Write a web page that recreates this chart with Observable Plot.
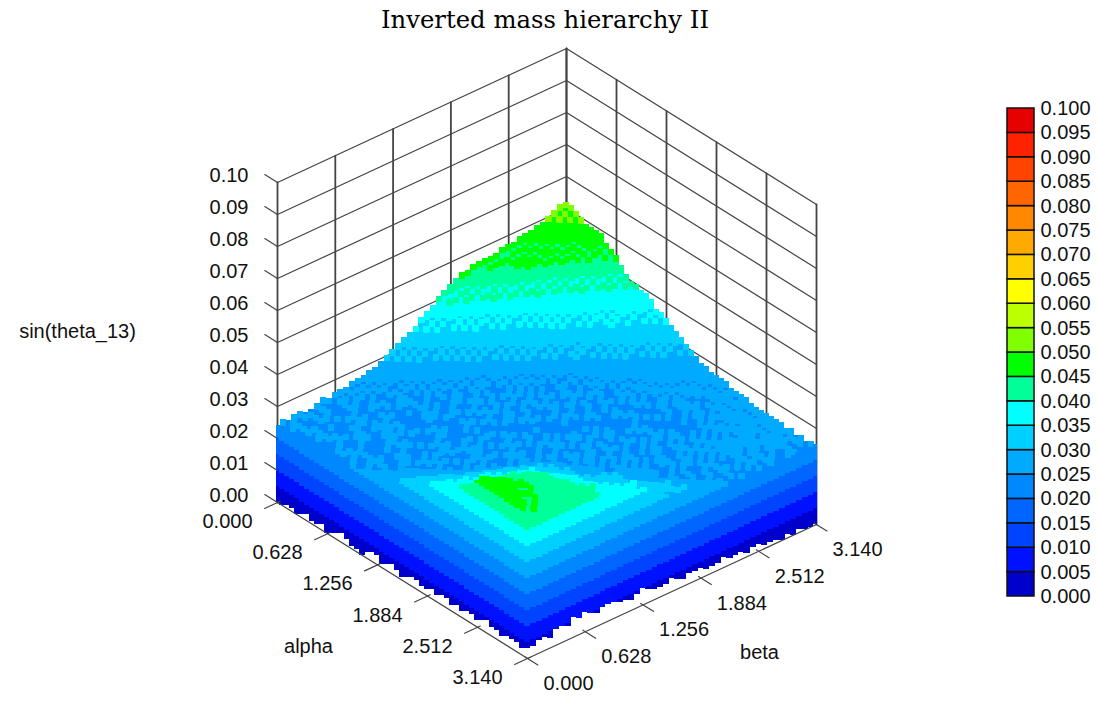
<!DOCTYPE html>
<html><head><meta charset="utf-8">
<script src="https://cdn.jsdelivr.net/npm/d3@7"></script>
<script src="https://cdn.jsdelivr.net/npm/@observablehq/plot@0.6"></script>
<style>
html,body{margin:0;padding:0;background:#fff}
#title{height:40px;line-height:40px;width:1090px;text-align:center;font-family:"DejaVu Serif",serif;font-size:24.3px;color:#000}
svg{display:block}
</style></head><body>
<div id="title">Inverted mass hierarchy II</div>
<div id="chart"></div>
<script>
// upper envelope of sin(theta_13), one row per alpha step, one letter per beta step
const heightCodes = "abcdefghijklmnopqrstuvwxyzABCDEFGHIJ"; // a = 0.020, each next letter +0.001
const heightRows = [
"efeffeefgf ggghhhiijk lmnoprstvw xyzzAAAAAB BBCCCDDEFG G",
"eefeffefee ffggghhiij klmnopqstu uvvwxyzzzz AAABBCCDEF G",
"effeefefee feffgghhii jklmnopqrs tuuvwwxyyz zzAABBCCDE F",
"eefeeffeed ffeefgghhi ijklmnoopq rstuuvwxyz zzzAABBCCD E",
"deffeeefee feefeeffgh iijjklmnop qrstuuvwxy zzzAAABBCD D",
"eedfefeeff eefffeefgg hiijjklmno pqqrstuuvw xyzzzAAACD D",
"deffeddeef feeefeffef ghhiijklmn oopqrsstuu vwxyzzzABD D",
"edeffeefff eefeefffee fgghhijklm noopqrsstu uvvwxyzABC D",
"eeedffefee feffeeefef efgghhijkl mmnoopqrss tuuvwxyzAA B",
"deefeeffef ffeeefeffe efefgghhij klmnoopqrr sttuuvwxyz A",
"eefdeeffee fffeedefef eeffefgghi jklmnoopqr ssttuuvwxy z",
"edffefeeef fefdeefffe effeefgghh ijklmnoopq rrssttuuvw x",
"eeeffeddef ffeeedffee feeffefegg hijklmnoop qrrssttuuv v",
"eefefeedff eeffeeedff feeffefeef gghijklmno opqrrssttu u",
"ffeefeefef fedeffeeed effeefeffe fgghhjklmn oopqqrsstt u",
"feefffeeef feedeffeef eeffefeeff efgghijjkl mnoopqrsst t",
"gffefeeffe efeeffedef feeffeffee fefeghijkl mnoopqrsst t",
"ggfefeeffe eeffeedefe effeefeeff efeeffghij klmnoopqrs s",
"hggfeeffee feeffeeedf eefeffefef effefeghij jklmnooopq q",
"hhggffeeff efffeeffee edeffeefef feeffefghi jjklmnooop q",
"iihgggfeef feefffeeff feedeffeee ffeeffeggh ijjklmnnoo p",
"iiihhggfee ffeeefffee efeedeffee feffeeffgh hijjjklmno o",
"jiiihhggff eefeeffefe effeeedeff eefefgefeg hhijjjklmn n",
"kjiihhggff feefffeeef feefefedee ffeefefeef gghijjjklm m",
"kkjiihhggf fefeefffee ffefeeedef efefeeffef fgghiijjjk l",
"llkkjiihhg gfeffeeeff eefeefeeed eeffefeefe fgghhiijjj k",
"mmllkjiihh ggffefeeff feeffefeed eedfeefeef efgghhhiij j",
"nmmlllkjii hhggffefef eefeffeffe feedeffeef feggghhiii i",
"nnmmlllkji ihhggffeff efeeffeffe efeedeffee feffggghhi i",
"oonnmmlllk jiihhggfef feffeefeef fefeeeefee effefggghh h",
"ppoonnmmml lkjjiihhgg fefefeeffe effeeefefe efeffggghh h",
"qqppoonnnm mlkkjiihhg gfeeffefef efeeffeedf efeffegggh h",
"rqqppponnn mmmlkkjiih hgfefeffef eefeeffeee feefffeggh h",
"rrqqqppppo onnmmlkkji igffeffeef feffeefeee eefefefggg g",
"ssrrqqqqpp onnmmlkkkj ihgfefeffe efeefeffee dfeffefggg g",
"tssrrqqqpp ponnmllkkj jhgffefefe feefeffefe eeefefgfgf g",
"uutssrrqqq qqpponmlkk jjihgfefef fefefeeffe eefeffgfgg g",
"vvuuutssrr qqpponmlkk jihgfeeffe feeffefefe feffegffgg f",
"wwvvvuuuut srqponmlkk jjihgfefef efefeeffef efeffgfgfg f",
"yxxwwvvuuu tsrqponmlk kjjihgfefe feffeeffef fefgffgffg f",
"Azyyxxwwvv utsrqponml kkkjjiihgf eeffefeffe ffefgffgfg f",
"CBzzyyxwwv vutsrqponm lkkkjjiihg feefeffeff gffegfgfgf f",
"DCBzzyxxww vutsrqponm lkkkjjihgf eefeffefef ffgffgffgf f",
"DDCAzzyxww vutsrqponm lkkkjjihgf efefeefefe fgffgfefgf f",
"DCCzAzyyxw wvutsrqpon mlkkjjihhg ffefeeffef gffgffgfff e",
"CDAzyzyxxw vvutsrqppo nmlkkjjihg gfefefefee gfeffgfffg f",
"CBzAzyyxww vvuutsrqpp onmlkkjjih hgfeefeffe ffgfeffgff e",
"BAzyzyxxww vvuuutsrqp pponmlkkji hhgffeefef efgfefgfef f",
"Azyzyxxwwv vuuutsrrqp ponmkkjjii hhgfefefee fgeffeefef e",
"zyzyxxwwvv vuuuttsrqq pponnmlkkj jihhgfeefe efefeeffee f",
"zyyxxxwwvv vvuuttssrq ponmlkjjii hhhgfeeded eedeeeefef f"
];
const alphaFloor = [0,0,1,1,0,1,2,1,1,2,0,1,2,3,2,1,1,0,2,3,3,1,2,3,2,1,2,3,3,2,2,3,2,3,3,2,3,2,3,3,2,3,4,3,3,2,3,3,3,2,3];
const betaFloor = [3,3,4,4,3,5,5,4,6,5,6,5,4,5,5,5,4,4,3,4,5,4,3,3,3,4,3,2,3,3,3,2,2,2,3,2,2,2,1,2,2,1,1,1,0,1,0,1,0,0,0];
const zTicks = [0,0.01,0.02,0.03,0.04,0.05,0.06,0.07,0.08,0.09,0.1];
const angleTicks = [0,0.628,1.256,1.884,2.512,3.14];
const legendEdges = [0.005,0.01,0.015,0.02,0.025,0.03,0.035,0.04,0.045,0.05,0.055,0.06,0.065,0.07,0.075,0.08,0.085,0.09,0.095];
const legendColors = ["#0000cc","#0011ff","#0044ff","#0066ff","#0088ff","#00aaff","#00d0ff","#00ffff","#00ff99","#00ff00","#80ff00","#bbff00","#ffff00","#ffd000","#ffaa00","#ff8800","#ff6600","#ff4400","#ff2200","#e60000"];
const legendLabels = [0,0.005,0.01,0.015,0.02,0.025,0.03,0.035,0.04,0.045,0.05,0.055,0.06,0.065,0.07,0.075,0.08,0.085,0.09,0.095,0.1];

// oblique projection of the 3-D box
const PI = 3.14, N = 50;
const px = (a, b) => 277 + 250 * a / PI + 289 * b / PI;
const py = (a, b, z) => 502 + 156 * a / PI - 134 * b / PI - 3200 * z;
const P = (a, b, z) => ({x: px(a, b), y: py(a, b, z)});
const line3 = (pts) => Plot.line(pts.map(p => P(...p)), {x: "x", y: "y", stroke: "#444", strokeWidth: 1.2});
const rows = heightRows.map(r => r.replace(/ /g, ""));

const bands = [];
rows.forEach((row, i) => {
  for (let j = row.length - 1; j >= 0; --j) {
    const h = (20 + heightCodes.indexOf(row[j])) / 1000;
    const a = i / N * PI, b = j / N * PI;
    const edge = i === N || j === 0;
    const floorZ = j === 0 ? alphaFloor[i] / 1000 : i === N ? betaFloor[j] / 1000 : 0;
    const topBand = Math.floor(h / 0.005 + 1e-9);
    const first = edge ? 0 : Math.max(0, topBand - 2);
    const cx = px(a, b);
    const x1 = Math.max(276, cx - 3.2), x2 = Math.min(817, cx + 3.2);
    for (let k = first; k <= topBand; ++k) {
      const lo = Math.max(k * 0.005, floorZ), hi = Math.min((k + 1) * 0.005, h);
      if (hi <= lo) continue;
      bands.push({x1, x2, y1: py(a, b, lo), y2: py(a, b, hi), z: (k + 0.5) * 0.005});
    }
    // the block that carries the column's own colour on top of the surface
    if (!edge) bands.push({x1, x2, y1: py(a, b, h - 0.002), y2: py(a, b, h), z: h});
  }
});

const wall = [];
for (const z of zTicks) wall.push(line3([[0,0,z],[0,PI,z],[PI,PI,z]]));
for (const t of angleTicks) {
  wall.push(Plot.line([P(0,t,0),P(0,t,0.1)], {x:"x",y:"y",stroke:"#444",strokeWidth:1.8}));
  wall.push(Plot.line([P(t,PI,0),P(t,PI,0.1)], {x:"x",y:"y",stroke:"#444",strokeWidth:1.8}));
}
const ticks = [];
for (const z of zTicks) ticks.push(line3([[-0.16,0,z],[0,0,z]]));
for (const t of angleTicks) {
  ticks.push(line3([[t,-0.14,0],[t,0.03,0]]));
  ticks.push(line3([[PI+0.13,t,0],[PI-0.03,t,0]]));
}
ticks.push(line3([[0,0,0],[PI,0,0],[PI,PI,0]]));

const font = {fontFamily: "Liberation Sans, Arial, sans-serif", fontSize: 20, fill: "#111"};
const fmt3 = d3.format(".3f"), fmt2 = d3.format(".2f");
const legendY = d3.scaleLinear([0, 0.1], [596, 108]);
const legendRects = legendColors.map((c, i) => ({y1: legendY(i * 0.005), y2: legendY((i + 1) * 0.005), z: (i + 0.5) * 0.005}));

const chart = Plot.plot({
  width: 1097, height: 662, margin: 0,
  x: {domain: [0, 1097], range: [0, 1097], axis: null},
  y: {domain: [40, 702], range: [0, 662], axis: null},
  color: {type: "threshold", domain: legendEdges, range: legendColors},
  marks: [
    ...wall,
    Plot.rect(bands, {x1: "x1", x2: "x2", y1: "y1", y2: "y2", fill: "z", shapeRendering: "crispEdges"}),
    ...ticks,
    Plot.text(zTicks, {x: () => 248, y: z => py(0, 0, z) - 7, text: z => fmt2(z), textAnchor: "end", ...font}),
    Plot.text(angleTicks, {x: t => px(t, 0) - 50, y: t => py(t, 0, 0) + 19, text: t => fmt3(t), ...font}),
    Plot.text(angleTicks, {x: t => px(PI, t) + 41, y: t => py(PI, t, 0) + 25, text: t => fmt3(t), ...font}),
    Plot.text(["alpha"], {x: () => 308, y: () => 646, ...font}),
    Plot.text(["beta"], {x: () => 759, y: () => 652, ...font}),
    Plot.text(["sin(theta_13)"], {x: () => 77, y: () => 331, ...font}),
    Plot.rect(legendRects, {x1: () => 1007, x2: () => 1034, y1: "y1", y2: "y2", fill: "z", stroke: "#111", strokeWidth: 1.5}),
    Plot.text(legendLabels, {x: () => 1040, y: v => legendY(v), text: v => fmt3(v), textAnchor: "start", ...font})
  ]
});
document.getElementById("chart").append(chart);
</script>
</body></html>
